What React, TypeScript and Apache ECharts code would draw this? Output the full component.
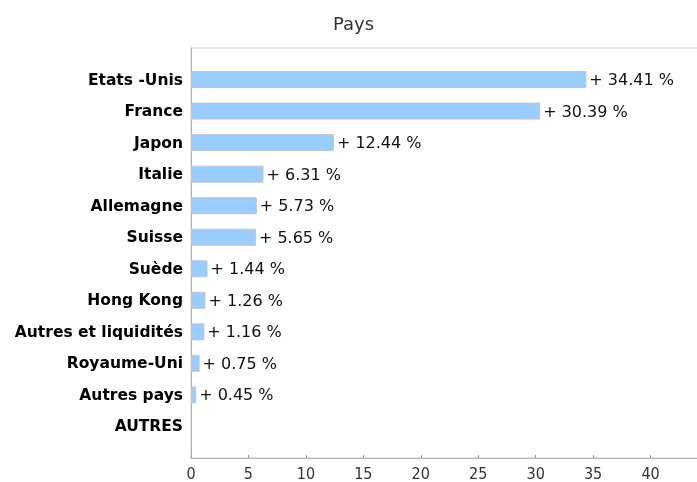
import React, { useEffect, useRef } from "react";
import * as echarts from "echarts";

const categories = [
  "",
  "Etats -Unis",
  "France",
  "Japon",
  "Italie",
  "Allemagne",
  "Suisse",
  "Suède",
  "Hong Kong",
  "Autres et liquidités",
  "Royaume-Uni",
  "Autres pays",
  "AUTRES",
  "",
];
const values: (number | null)[] = [
  null, 34.41, 30.39, 12.44, 6.31, 5.73, 5.65, 1.44, 1.26, 1.16, 0.75, 0.45, null, null,
];
const xTicks = [0, 5, 10, 15, 20, 25, 30, 35, 40, 45];

export default function App() {
  const ref = useRef<HTMLDivElement>(null);
  useEffect(() => {
    if (!ref.current) return;
    const chart = echarts.init(ref.current, null, { renderer: "svg" });
    chart.setOption({
      animation: false,
      title: {
        text: "Pays",
        left: 328,
        top: 9,
        textStyle: { fontFamily: "DejaVu Sans", fontSize: 18, fontWeight: "normal", color: "#333" },
      },
      grid: {
        left: 191,
        top: 48,
        width: 517,
        height: 410,
        show: true,
        borderColor: "#d0d0d0",
        borderWidth: 1,
        containLabel: false,
        outerBoundsMode: "none",
      },
      xAxis: {
        type: "value",
        min: xTicks[0],
        max: xTicks[xTicks.length - 1],
        interval: 5,
        axisLine: { show: true, lineStyle: { color: "#b0b0b0" } },
        axisTick: { show: true, inside: true, length: 3, lineStyle: { color: "#999" } },
        splitLine: { show: false },
        axisLabel: {
          color: "#333",
          fontFamily: "DejaVu Sans Condensed",
          fontSize: 16,
          margin: 7,
          formatter: (v: number) => (v >= 45 ? "" : String(v)),
        },
      },
      yAxis: {
        type: "category",
        data: categories,
        inverse: true,
        boundaryGap: false,
        axisLine: { show: true, lineStyle: { color: "#b0b0b0" } },
        axisTick: { show: false },
        splitLine: { show: false },
        axisLabel: {
          color: "#000",
          fontFamily: "DejaVu Sans",
          fontWeight: "bold",
          fontSize: 15.5,
          margin: 8,
          interval: 0,
        },
      },
      series: [
        {
          type: "bar",
          data: values,
          barWidth: 17,
          itemStyle: { color: "#99ccff", borderColor: "#c4c4c4", borderWidth: 1 },
          label: {
            show: true,
            position: "right",
            distance: 3,
            color: "#111",
            fontFamily: "DejaVu Sans",
            fontSize: 16,
            formatter: (p: any) => (p.value == null ? "" : "+ " + Number(p.value).toFixed(2) + " %"),
          },
        },
      ],
    });
    return () => chart.dispose();
  }, []);
  return (
    <div
      ref={ref}
      style={{ position: "fixed", left: 0, top: 0, width: 697, height: 482, overflow: "hidden" }}
    />
  );
}
